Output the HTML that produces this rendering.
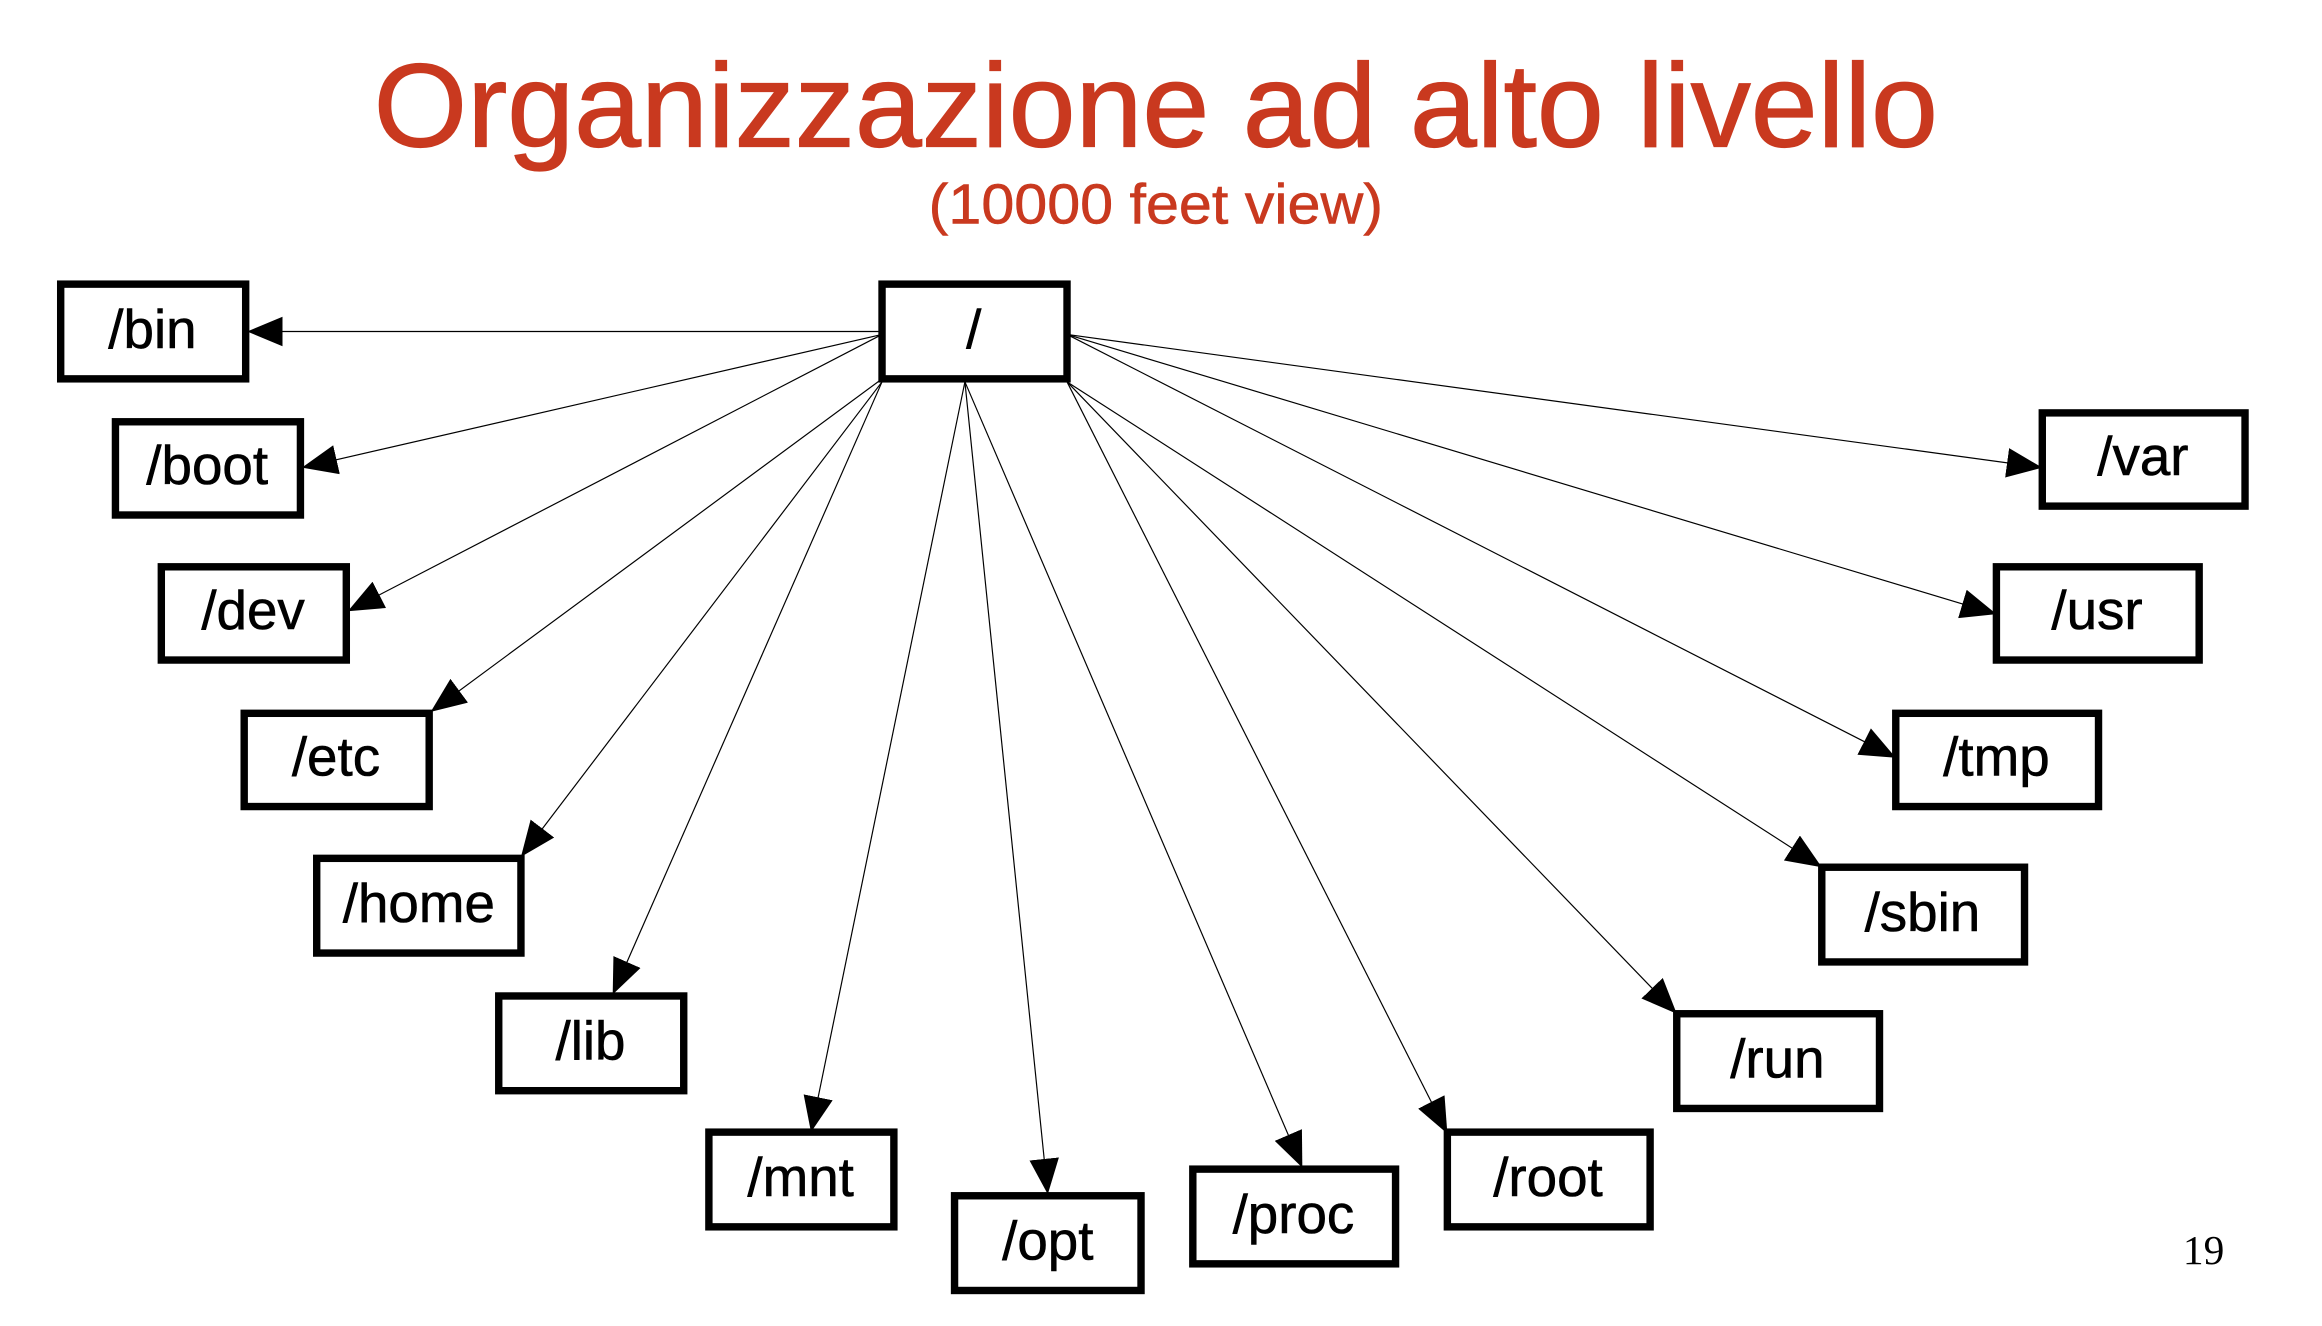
<!DOCTYPE html>
<html><head><meta charset="utf-8"><style>
html,body{margin:0;padding:0;background:#fff;}
svg{display:block;}
</style></head><body>
<svg width="2322" height="1326" viewBox="0 0 1569 896" xmlns="http://www.w3.org/2000/svg">
<defs>
<marker id="a" markerUnits="userSpaceOnUse" markerWidth="26" markerHeight="20" refX="24" refY="10" orient="auto">
<path d="M0,0 L24,10 L0,20 Z" fill="#000"/>
</marker>
</defs>
<text x="781" y="99" font-family="Liberation Sans, sans-serif" font-size="80" fill="#c9391f" text-anchor="middle" textLength="1057" lengthAdjust="spacingAndGlyphs" stroke="#c9391f" stroke-width="0.8">Organizzazione ad alto livello</text>
<text x="781" y="151" font-family="Liberation Sans, sans-serif" font-size="38" fill="#c9391f" text-anchor="middle" textLength="307" lengthAdjust="spacingAndGlyphs" stroke="#c9391f" stroke-width="0.4">(10000 feet view)</text>
<g stroke="#000" stroke-width="0.8" fill="none" marker-end="url(#a)">
<line x1="596" y1="224" x2="167" y2="224"/>
<line x1="596" y1="226" x2="204" y2="316"/>
<line x1="596" y1="226" x2="235" y2="413"/>
<line x1="596" y1="256" x2="291" y2="481"/>
<line x1="596" y1="258" x2="352" y2="579"/>
<line x1="596" y1="258" x2="414" y2="672"/>
<line x1="652" y1="258" x2="548" y2="765"/>
<line x1="652" y1="258" x2="708" y2="807"/>
<line x1="652" y1="258" x2="880" y2="789"/>
<line x1="721" y1="258" x2="978" y2="766"/>
<line x1="721" y1="258" x2="1133" y2="685"/>
<line x1="721" y1="258" x2="1231" y2="586"/>
<line x1="721" y1="226" x2="1281" y2="512"/>
<line x1="721" y1="226" x2="1349" y2="415"/>
<line x1="721" y1="226" x2="1380" y2="316"/>
</g>
<g stroke="#000" stroke-width="5" fill="#fff">
<rect x="596" y="192" width="125" height="64"/>
<rect x="41" y="192" width="125" height="64"/>
<rect x="78" y="285" width="125" height="63"/>
<rect x="109" y="383" width="125" height="63"/>
<rect x="165" y="482" width="125" height="63"/>
<rect x="214" y="580" width="138" height="64"/>
<rect x="337" y="673" width="125" height="64"/>
<rect x="479" y="765" width="125" height="64"/>
<rect x="645" y="808" width="126" height="64"/>
<rect x="806" y="790" width="137" height="64"/>
<rect x="978" y="765" width="137" height="64"/>
<rect x="1133" y="685" width="137" height="64"/>
<rect x="1231" y="586" width="137" height="64"/>
<rect x="1281" y="482" width="137" height="63"/>
<rect x="1349" y="383" width="137" height="63"/>
<rect x="1380" y="279" width="137" height="63"/>
</g>
<g font-family="Liberation Sans, sans-serif" font-size="37" fill="#000" text-anchor="middle" stroke="#000" stroke-width="0.4">
<text x="658" y="235">/</text>
<text x="103" y="235">/bin</text>
<text x="140" y="327">/boot</text>
<text x="171" y="425">/dev</text>
<text x="227" y="524">/etc</text>
<text x="283" y="623">/home</text>
<text x="399" y="716">/lib</text>
<text x="541" y="808">/mnt</text>
<text x="708" y="851">/opt</text>
<text x="874" y="833">/proc</text>
<text x="1046" y="808">/root</text>
<text x="1201" y="728">/run</text>
<text x="1299" y="629">/sbin</text>
<text x="1349" y="524">/tmp</text>
<text x="1417" y="425">/usr</text>
<text x="1448" y="321">/var</text>
</g>
<text x="1489" y="854" font-family="Liberation Serif, serif" font-size="28" fill="#000" text-anchor="middle">19</text>
</svg>
</body></html>
